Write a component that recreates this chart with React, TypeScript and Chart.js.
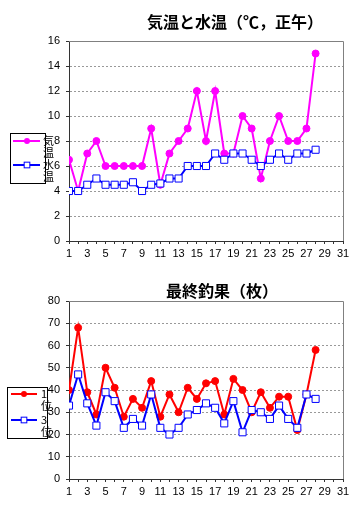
import React, { useEffect, useRef } from "react";
import { Chart, registerables } from "chart.js";

Chart.register(...registerables);

// ---------- data ----------
const days = [1, 2, 3, 4, 5, 6, 7, 8, 9, 10, 11, 12, 13, 14, 15, 16, 17, 18, 19, 20, 21, 22, 23, 24, 25, 26, 27, 28];
const xTickValues = [1, 2, 3, 4, 5, 6, 7, 8, 9, 10, 11, 12, 13, 14, 15, 16, 17, 18, 19, 20, 21, 22, 23, 24, 25, 26, 27, 28, 29, 30, 31];
const xTickLabels = [1, 3, 5, 7, 9, 11, 13, 15, 17, 19, 21, 23, 25, 27, 29, 31];

const airTemp = [6.5, 4, 7, 8, 6, 6, 6, 6, 6, 9, 4.5, 7, 8, 9, 12, 8, 12, 7, 7, 10, 9, 5, 8, 10, 8, 8, 9, 15];
const waterTemp = [4, 4, 4.5, 5, 4.5, 4.5, 4.5, 4.7, 4, 4.5, 4.6, 5, 5, 6, 6, 6, 7, 6.5, 7, 7, 6.5, 6, 6.5, 7, 6.5, 7, 7, 7.3];

const catch1st = [40, 68, 39, 29, 50, 41, 28, 36, 32, 44, 28, 38, 30, 41, 36, 43, 44, 29, 45, 40, 30, 39, 32, 37, 37, 22, 38, 58];
const catch3rd = [33, 47, 34, 24, 39, 35, 23, 27, 24, 38, 23, 20, 23, 29, 31, 34, 32, 25, 35, 21, 31, 30, 27, 33, 27, 23, 38, 36];

const topTitle = "気温と水温（℃，正午）";
const bottomTitle = "最終釣果（枚）";
const topLegend = [["気", "温"], ["水", "温"]];
const bottomLegend = [["1", "位"], ["3", "位"]];

// ---------- helpers ----------
const toPoints = (vals: number[]) => vals.map((v, i) => ({ x: days[i], y: v }));

const TICK_FONT = { family: "'Liberation Sans', Arial, sans-serif", size: 11 };
const CJK = "'Noto Sans CJK JP', sans-serif";

const decorPlugin = {
  id: "decor",
  afterDraw(chart: any, _args: any, opts: any) {
    const ctx = chart.ctx as CanvasRenderingContext2D;
    const a = chart.chartArea;
    ctx.save();
    // plot frame top/right
    ctx.strokeStyle = "#808080";
    ctx.lineWidth = 1;
    ctx.beginPath();
    ctx.moveTo(Math.round(a.left), Math.round(a.top) + 0.5);
    ctx.lineTo(Math.round(a.right) + 0.5, Math.round(a.top) + 0.5);
    ctx.lineTo(Math.round(a.right) + 0.5, Math.round(a.bottom));
    ctx.stroke();

    // title
    ctx.fillStyle = "#000";
    ctx.font = `bold 16px ${CJK}`;
    ctx.textBaseline = "middle";
    ctx.textAlign = "left";
    ctx.fillText(opts.title, opts.titleX, opts.titleY);

    // legend
    const L = opts.legend;
    ctx.fillStyle = "#fff";
    ctx.fillRect(L.x, L.y, L.w, L.h);
    ctx.strokeStyle = "#000";
    ctx.lineWidth = 1;
    ctx.strokeRect(L.x + 0.5, L.y + 0.5, L.w, L.h);
    L.items.forEach((lines: string[], i: number) => {
      const ds = chart.data.datasets[i];
      const y = L.itemY[i];
      ctx.strokeStyle = ds.borderColor;
      ctx.lineWidth = ds.borderWidth;
      ctx.beginPath();
      ctx.moveTo(L.sx1, y);
      ctx.lineTo(L.sx2, y);
      ctx.stroke();
      if (ds.pointStyle === "rect") {
        const s = Math.SQRT1_2 * ds.pointRadius * 0.8;
        ctx.fillStyle = "#fff";
        ctx.fillRect(L.mx - s, y - s, 2 * s, 2 * s);
        ctx.strokeStyle = ds.borderColor;
        ctx.lineWidth = 1;
        ctx.strokeRect(L.mx - s, y - s, 2 * s, 2 * s);
      } else {
        ctx.fillStyle = ds.borderColor;
        ctx.beginPath();
        ctx.arc(L.mx, y, ds.pointRadius * 0.85, 0, Math.PI * 2);
        ctx.fill();
      }
      ctx.fillStyle = "#000";
      ctx.font = `11px ${CJK}`;
      ctx.textBaseline = "middle";
      ctx.textAlign = "left";
      lines.forEach((t, k) => ctx.fillText(t, L.tx, y + k * L.lh));
    });
    ctx.restore();
  },
};

function makeConfig(p: any): any {
  return {
    type: "line",
    data: {
      datasets: [
        {
          data: toPoints(p.s1),
          borderColor: p.c1,
          backgroundColor: p.c1,
          pointBackgroundColor: p.c1,
          pointBorderColor: p.c1,
          borderWidth: 2,
          pointStyle: "circle",
          pointRadius: 3.5,
          pointBorderWidth: 1,
          tension: 0,
          order: 2,
        },
        {
          data: toPoints(p.s2),
          borderColor: p.c2,
          backgroundColor: "#fff",
          pointBackgroundColor: "#fff",
          pointBorderColor: p.c2,
          borderWidth: 2,
          pointStyle: "rect",
          pointRadius: 5,
          pointBorderWidth: 1,
          tension: 0,
          order: 1,
        },
      ],
    },
    options: {
      responsive: false,
      animation: false,
      layout: { padding: { left: 0, top: p.padTop, right: p.padRight, bottom: 0 } },
      plugins: {
        legend: { display: false },
        title: { display: false },
        tooltip: { enabled: false },
        decor: {
          title: p.title,
          titleX: p.titleX,
          titleY: p.titleY,
          legend: p.legend,
        },
      },
      scales: {
        x: {
          type: "linear",
          min: 1,
          max: 31,
          afterBuildTicks: (s: any) => {
            s.ticks = xTickValues.map((v) => ({ value: v }));
          },
          afterFit: (s: any) => {
            s.height = p.xHeight;
          },
          ticks: {
            stepSize: 1,
            autoSkip: false,
            maxRotation: 0,
            padding: 3,
            color: "#000",
            font: TICK_FONT,
            callback: (v: number) => (xTickLabels.includes(v) ? String(v) : ""),
          },
          grid: { drawOnChartArea: false, drawTicks: true, tickLength: 3, color: "#333" },
          border: { display: true, color: "#333", width: 1 },
        },
        y: {
          min: 0,
          max: p.yMax,
          afterFit: (s: any) => {
            s.width = 69;
          },
          ticks: { stepSize: p.yStep, padding: 6, color: "#000", font: TICK_FONT },
          grid: { color: "#999", tickLength: 3, tickColor: "#333", drawTicks: true },
          border: { display: true, color: "#333", width: 1, dash: [2, 2] },
        },
      },
    },
    plugins: [decorPlugin],
  };
}

export default function App() {
  const topRef = useRef<HTMLCanvasElement | null>(null);
  const botRef = useRef<HTMLCanvasElement | null>(null);

  useEffect(() => {
    const c1 = new Chart(
      topRef.current as HTMLCanvasElement,
      makeConfig({
        s1: airTemp,
        s2: waterTemp,
        c1: "#FF00FF",
        c2: "#0000FF",
        padTop: 41,
        padRight: 18,
        xHeight: 21,
        yMax: 16,
        yStep: 2,
        title: topTitle,
        titleX: 147,
        titleY: 22,
        legend: {
          x: 10, y: 133, w: 35, h: 50,
          items: topLegend,
          itemY: [141, 165],
          sx1: 13, sx2: 40, mx: 27, tx: 43, lh: 12,
        },
      })
    );
    const c2 = new Chart(
      botRef.current as HTMLCanvasElement,
      makeConfig({
        s1: catch1st,
        s2: catch3rd,
        c1: "#FF0000",
        c2: "#0000FF",
        padTop: 39,
        padRight: 18,
        xHeight: 45,
        yMax: 80,
        yStep: 10,
        title: bottomTitle,
        titleX: 166,
        titleY: 29,
        legend: {
          x: 7, y: 125, w: 40, h: 51,
          items: bottomLegend,
          itemY: [132, 158],
          sx1: 11, sx2: 37, mx: 24, tx: 41, lh: 12,
        },
      })
    );
    return () => {
      c1.destroy();
      c2.destroy();
    };
  }, []);

  return (
    <div style={{ position: "absolute", left: 0, top: 0, width: 361, height: 524, background: "#fff" }}>
      <canvas ref={topRef} width={361} height={262} style={{ display: "block", width: 361, height: 262 }} />
      <canvas ref={botRef} width={361} height={262} style={{ display: "block", width: 361, height: 262 }} />
    </div>
  );
}
